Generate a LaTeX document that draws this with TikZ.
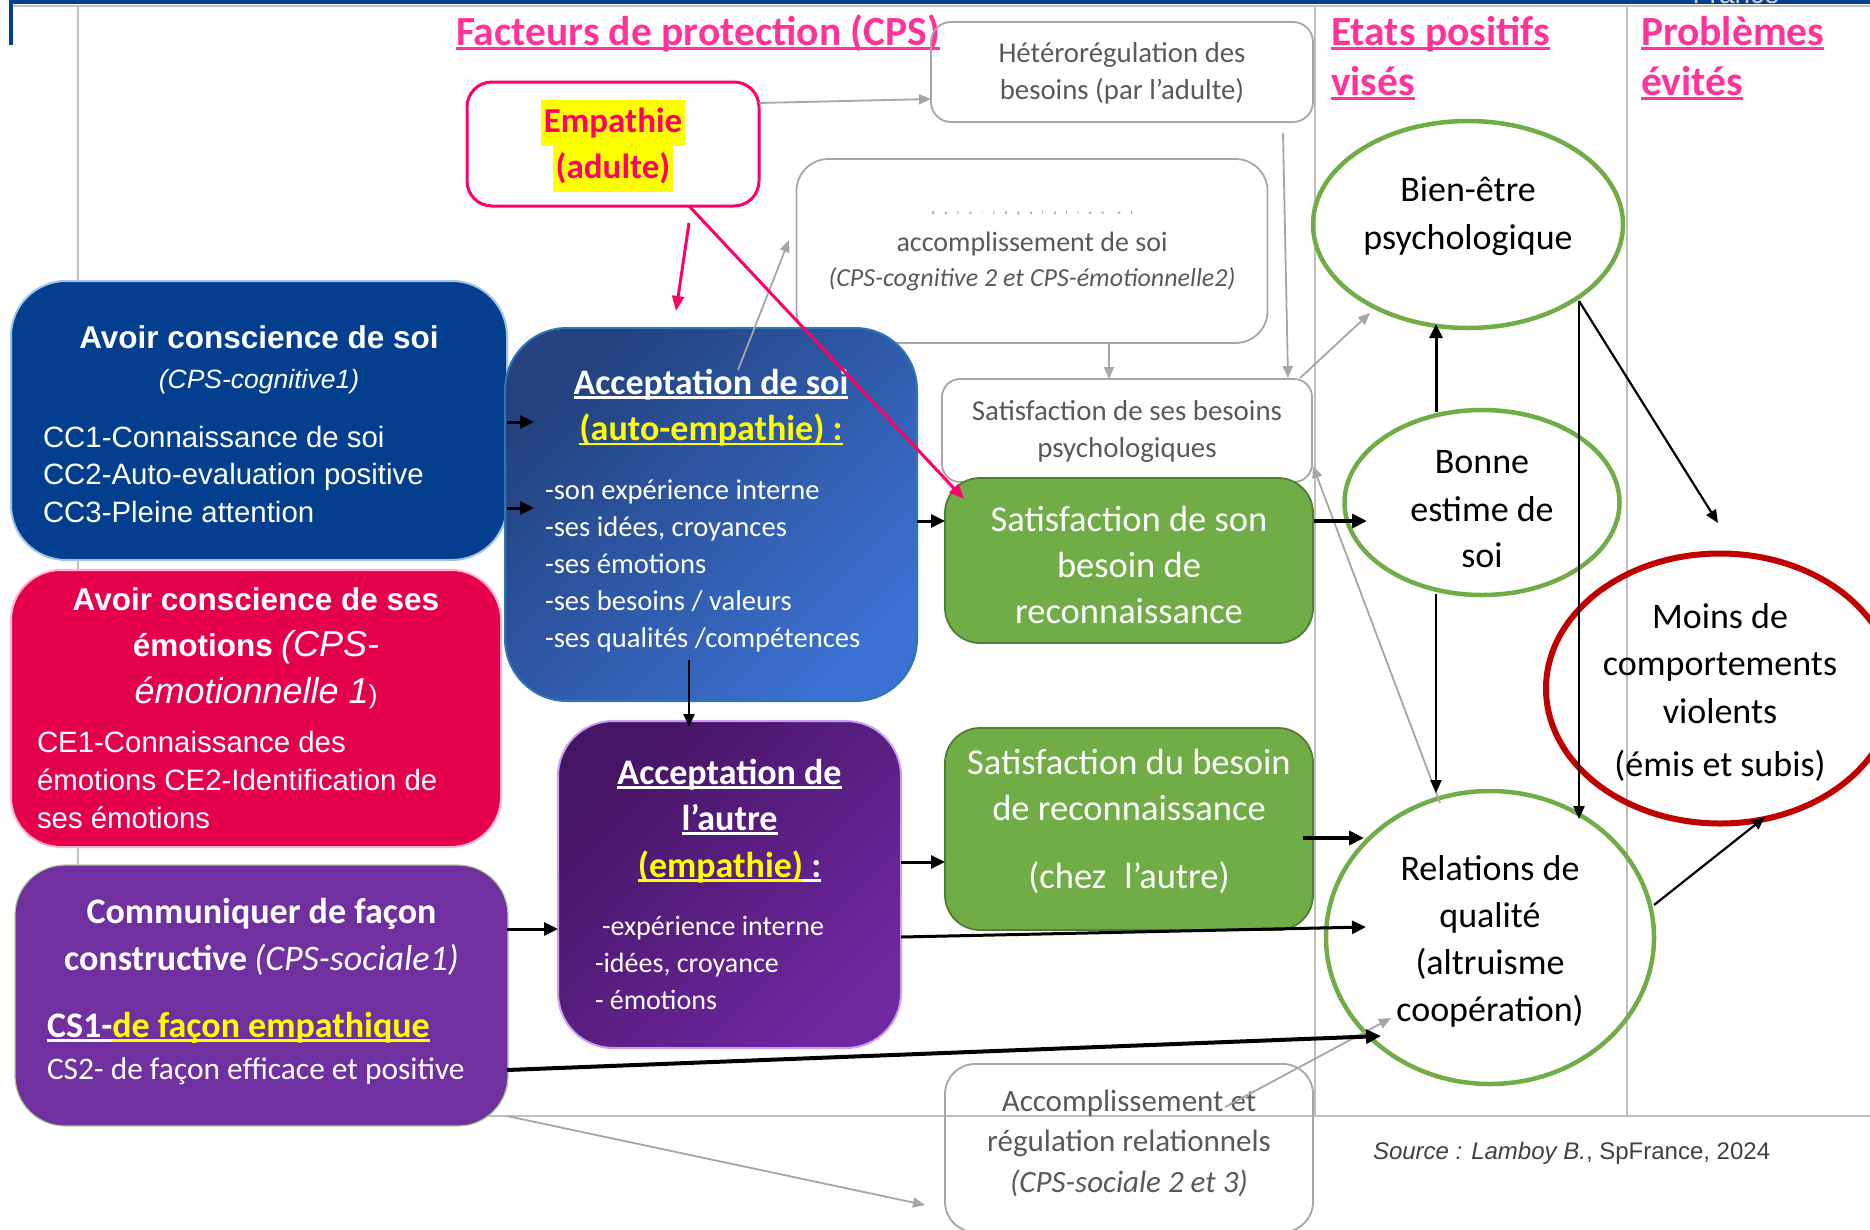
\documentclass[tikz,border=0pt]{standalone}
\usepackage{fontspec}
\setmainfont{Carlito}
\newfontfamily\arialf{Liberation Sans}
\usetikzlibrary{arrows.meta,shapes.geometric,calc}

\definecolor{titlepink}{HTML}{FF3399}
\definecolor{emppink}{HTML}{FF0066}
\definecolor{hlyellow}{HTML}{FFFF00}
\definecolor{topblue}{HTML}{00408F}
\definecolor{framegray}{HTML}{BFBFBF}
\definecolor{taggray}{HTML}{D0D0D0}
\definecolor{boxgray}{HTML}{A6A6A6}
\definecolor{txtgray}{HTML}{595959}
\definecolor{soiblue}{HTML}{033F8E}
\definecolor{soiedge}{HTML}{9DC3E6}
\definecolor{emored}{HTML}{E4004F}
\definecolor{emoedge}{HTML}{FFB3CF}
\definecolor{commpurple}{HTML}{7030A0}
\definecolor{commedge}{HTML}{A9D18E}
\definecolor{asoiA}{HTML}{23427F}
\definecolor{asoiB}{HTML}{3B71D1}
\definecolor{asoiedge}{HTML}{2E75B6}
\definecolor{autreA}{HTML}{461464}
\definecolor{autreB}{HTML}{6E28A0}
\definecolor{autreedge}{HTML}{C9A0F0}
\definecolor{grfill}{HTML}{70AD47}
\definecolor{gredge}{HTML}{507E32}
\definecolor{ringred}{HTML}{C00000}
\definecolor{srcgray}{HTML}{404040}

% underline sitting just below the baseline, in the current colour
\newsavebox\ulbox
\newcommand\ulin[1]{\sbox\ulbox{#1}\rlap{\rule[-0.13em]{\wd\ulbox}{0.08em}}\usebox\ulbox}
% yellow highlighter
\newcommand\hilite[1]{{\setlength{\fboxsep}{0pt}\colorbox{hlyellow}{\strut\hspace{3pt}#1\hspace{3pt}}}}
\newcommand\fsz[2]{\fontsize{#1}{#2}\selectfont}
% invisible struts fixing the extent of a text block (vertical placement in its box)
\newcommand\topstrut[1]{\rule{0pt}{#1}}
\newcommand\botstrut[1]{\rule[-#1]{0pt}{#1}}

\begin{document}
\begin{tikzpicture}[x=1pt,y=-1pt,
  every node/.style={inner sep=0pt, outer sep=0pt},
  gbox/.style={draw=boxgray, line width=1.8pt, text=txtgray, align=center},
  gring/.style={ellipse, draw=grfill, line width=4.5pt, align=center, inner sep=-30pt},
  blk/.style={draw=black, line width=3pt, -{Triangle[length=14pt,width=13pt]}},
  blkthick/.style={draw=black, line width=4pt, -{Triangle[length=15pt,width=14pt]}},
  blkthin/.style={draw=black, line width=2.2pt, -{Triangle[length=13pt,width=11pt]}},
  gry/.style={draw=boxgray, line width=1.8pt, -{Triangle[length=12pt,width=10pt]}},
  pnk/.style={draw=emppink, line width=3pt, -{Triangle[length=15pt,width=12pt]}},
]
\useasboundingbox (0,0) rectangle (1870,1229);

% ---- page frame ----
\fill[topblue] (9,0) rectangle (1870,4);
\fill[topblue] (9,0) rectangle (13,45);
\draw[framegray, line width=2pt] (13,5.5) -- (1870,5.5);
\draw[framegray, line width=1.5pt] (78,5.5) -- (78,1116) -- (1870,1116);
\draw[framegray, line width=1.5pt] (1315,5.5) -- (1315,1116);
\draw[framegray, line width=1.5pt] (1627,5.5) -- (1627,1116);
\node[anchor=base west, font=\arialf\fsz{28}{32}, text=taggray] (tag) at (1634,3.5) {•\hspace{27pt}•\hspace{12pt}France};

% ---- column titles ----
\node[anchor=base west, text=titlepink, font=\bfseries\fsz{41.5}{50}] (tfac) at (456,45) {\ulin{Facteurs de protection (CPS)}};
\node[anchor=west, align=left, text=titlepink, font=\bfseries\fsz{41.5}{50}] (tetat) at (1331,60) {\ulin{Etats positifs}\strut\\\ulin{visés}\strut};
\node[anchor=west, align=left, text=titlepink, font=\bfseries\fsz{41.5}{50}] (tprob) at (1641,60) {\ulin{Problèmes}\strut\\\ulin{évités}\strut};

% ---- grey (regulation) boxes ----
\node[gbox, rounded corners=20pt, minimum width=382pt, minimum height=100pt, font=\fsz{28.8}{37}] (het) at (1122,72) {\topstrut{26.6pt}Hétérorégulation des\\besoins (par l’adulte)\botstrut{9pt}};
\node[gbox, rounded corners=32pt, minimum width=471pt, minimum height=184pt, font=\fsz{28}{35}] (auto) at (1032,251) {{\fsz{5}{6}\spaceskip=10pt A u t o - r é g u l a t i o n\hspace{14pt}e t}\\[2pt]accomplissement de soi\\{\itshape\fsz{26}{35}(CPS-cognitive 2 et CPS-émotionnelle2)}};
\node[gbox, rounded corners=18pt, minimum width=370pt, minimum height=103pt, font=\fsz{28.9}{37}] (sses) at (1127,430.5) {\topstrut{25pt}Satisfaction de ses besoins\\psychologiques\botstrut{9pt}};
\node[gbox, rounded corners=30pt, minimum width=368pt, minimum height=168pt, font=\fsz{31}{40.5}] (accomp) at (1129,1148) {\topstrut{27.6pt}Accomplissement et\\régulation relationnels\\{\itshape (CPS-sociale 2 et 3)}\botstrut{20pt}};

% ---- adult empathy ----
\node[draw=emppink, line width=3pt, rounded corners=25pt, minimum width=292pt, minimum height=124pt, align=center, text=emppink, font=\bfseries\fsz{35}{46}] (emp) at (613,144) {\topstrut{36pt}\hilite{Empathie}\\\hilite{(adulte)}};

% ---- life-skill boxes ----
\node[fill=soiblue, draw=soiedge, line width=2pt, rounded corners=55pt, minimum width=496pt, minimum height=279pt, align=center, text=white, font=\arialf\fsz{29.4}{37.5}] (soi) at (259,420.5) {{\topstrut{31.2pt}\bfseries\fsz{31.5}{37.5}Avoir conscience de soi}\\[3pt]{\itshape\fsz{26.5}{37.5}(CPS-cognitive1)}\\[21pt]\makebox[432pt][l]{CC1-Connaissance de soi}\\\makebox[432pt][l]{CC2-Auto-evaluation positive}\\\makebox[432pt][l]{CC3-Pleine attention}\botstrut{2pt}};

\node[fill=emored, draw=emoedge, line width=2pt, rounded corners=50pt, minimum width=490pt, minimum height=277pt, align=center, text=white, font=\arialf\fsz{29.4}{38}] (emo) at (256,708.5) {{\bfseries\fsz{31.5}{38}Avoir conscience de ses}\\[8pt]{\bfseries\fsz{31.5}{38}émotions} {\itshape\fsz{36}{38}(CPS-}\\[9pt]{\itshape\fsz{36}{38}émotionnelle 1}{\fsz{26}{38})}\\[11pt]\makebox[438pt][l]{CE1-Connaissance des}\\\makebox[438pt][l]{émotions CE2-Identification de}\\\makebox[438pt][l]{ses émotions}};

\node[fill=commpurple, draw=commedge, line width=1.2pt, rounded corners=50pt, minimum width=493pt, minimum height=261pt, align=center, text=white, font=\fsz{31.4}{42}] (comm) at (261.5,995.5) {{\topstrut{27.2pt}\bfseries\fsz{36}{42}Communiquer de façon}\\[5pt]{\bfseries\fsz{36}{42}constructive} {\itshape\fsz{36}{42}(CPS-sociale1)}\\[25pt]\makebox[429pt][l]{\bfseries\fsz{36}{42}\ulin{CS1-}\textcolor{hlyellow}{\ulin{de façon empathique}}}\\\makebox[429pt][l]{CS2- de façon efficace et positive}\botstrut{16pt}};

\node[top color=asoiA, bottom color=asoiB, shading angle=45, draw=asoiedge, line width=2pt, rounded corners=62pt, minimum width=412pt, minimum height=373pt, align=center, text=white, font=\fsz{28.6}{37}] (asoi) at (711,514.5) {{\topstrut{27.1pt}\bfseries\fsz{36}{37}\ulin{Acceptation de soi}}\\[9.5pt]{\bfseries\fsz{36}{37}\color{hlyellow}\ulin{(auto-empathie) :}}\\[22.2pt]\makebox[332pt][l]{-son expérience interne}\\\makebox[332pt][l]{-ses idées, croyances}\\\makebox[332pt][l]{-ses émotions}\\\makebox[332pt][l]{-ses besoins / valeurs}\\\makebox[332pt][l]{-ses qualités /compétences}\botstrut{14pt}};

\node[top color=autreA, bottom color=autreB, shading angle=45, draw=autreedge, line width=2pt, rounded corners=55pt, minimum width=343pt, minimum height=327pt, align=center, text=white, font=\fsz{28}{37}] (autre) at (729.5,884.5) {{\bfseries\fsz{36}{37}\ulin{Acceptation de}}\\[9pt]{\bfseries\fsz{36}{37}\ulin{l’autre}}\\[10pt]{\bfseries\fsz{36}{37}\textcolor{hlyellow}{\ulin{(empathie)}}\ulin{ :}}\\[21pt]\makebox[269pt][l]{\hspace{7pt}-expérience interne}\\\makebox[269pt][l]{-idées, croyance}\\\makebox[269pt][l]{- émotions}};

% ---- need satisfaction ----
\node[fill=grfill, draw=gredge, line width=1.8pt, rounded corners=35pt, minimum width=368pt, minimum height=165pt, align=center, text=white, font=\fsz{36.5}{46}] (g1) at (1129,560.5) {\topstrut{40pt}Satisfaction de son\\besoin de\\reconnaissance\botstrut{7pt}};
\node[fill=grfill, draw=gredge, line width=1.8pt, rounded corners=35pt, minimum width=368pt, minimum height=202pt, align=center, text=white, font=\fsz{36.5}{46}] (g2) at (1129,829) {\topstrut{36pt}Satisfaction du besoin\\de reconnaissance\\[22pt](chez\enspace l’autre)\botstrut{32pt}};

% ---- outcomes ----
\node[gring, minimum width=310pt, minimum height=207pt, font=\fsz{36}{46}] (bien) at (1468,224.5) {\topstrut{32pt}Bien-être\\[1.7pt]psychologique\botstrut{30pt}};
\node[gring, minimum width=275pt, minimum height=185pt, font=\fsz{36}{46}] (bonne) at (1482,502.5) {\topstrut{37.5pt}Bonne\\[1.5pt]estime de\\soi\botstrut{2pt}};
\node[gring, minimum width=328pt, minimum height=293pt, font=\fsz{36}{47}] (rel) at (1490,937.5) {\topstrut{38.4pt}Relations de\\qualité\\(altruisme\\coopération)\botstrut{12pt}};
\node[ellipse, draw=ringred, line width=6pt, inner sep=-30pt, minimum width=348pt, minimum height=270pt, align=center, font=\fsz{36}{47}] (moins) at (1720,688.5) {\topstrut{40pt}Moins de\\comportements\\[0.7pt]violents\\[6.6pt](émis et subis)\botstrut{12pt}};

\node[anchor=base west, text=srcgray, font=\arialf\fsz{24}{28}] (src) at (1373,1159) {\textit{Source : Lamboy B.}, SpFrance, 2024};

% ---- grey connectors ----
\draw[gry] ($(emp.east)+(0,-41)$) -- ($(het.west)+(0,27)$);
\draw[gry] ($(asoi.north)+(27,42)$) -- ($(auto.west)+(-7.5,-11)$);
\draw[gry] ($(het.south)+(161,11)$) -- ($(sses.north)+(161,-1)$);
\draw[gry] ($(auto.south)+(77,0)$) -- ($(sses.north)+(-18,0)$);
\draw[gry] ($(sses.north east)+(-12,-1)$) -- ($(bien.south)+(-98,-15)$);
\draw[gry] ($(rel.north)+(-50,12)$) -- ($(sses.east)+(1,35.5)$);
\draw[gry] ($(accomp.north)+(96,43)$) -- ($(rel.west)+(65,80.5)$);
\draw[gry] ($(comm.south east)+(-1,-10)$) -- ($(accomp.west)+(-20,57)$);

% ---- black connectors ----
\draw[blk] ($(soi.east)+(0,1.5)$) -- ($(asoi.west)+(29,-92.5)$);
\draw[blk] ($(soi.east)+(0,87.5)$) -- ($(asoi.west)+(29,-6.5)$);
\draw[blk] ($(asoi.east)+(0,6.5)$) -- ($(g1.west)+(0,-39.5)$);
\draw[blkthin] ($(asoi.south)+(-22,-41)$) -- ($(autre.north)+(-40.5,6)$);
\draw[blk] ($(autre.east)+(0,-22.5)$) -- ($(g2.west)+(0,33)$);
\draw[blk] ($(comm.east)+(-1,-66.5)$) -- ($(autre.west)+(0,44.5)$);
\draw[blk] ($(autre.east)+(0,52.5)$) -- ($(rel.west)+(40,-10.5)$);
\draw[blkthick] ($(comm.east)+(-1,74.5)$) -- ($(rel.west)+(55,98.5)$);
\draw[blkthick] ($(g1.east)+(1,-39.5)$) -- ($(bonne.west)+(22.5,18.5)$);
\draw[blkthick] ($(g2.east)+(-10,9)$) -- ($(rel.west)+(38,-99.5)$);
\draw[blk] ($(bonne.north)+(-46,2)$) -- ($(bien.south)+(-32,-4)$);
\draw[blkthin] ($(bonne.south)+(-46,-1)$) -- ($(rel.north)+(-54,2)$);
\draw[blkthin] ($(bien.center)+(111,76.5)$) -- ($(rel.north)+(89,28)$);
\draw[blkthin] ($(bien.center)+(111,76.5)$) -- ($(moins.north)+(-2,-30.5)$);
\draw[blkthin] ($(rel.east)+(0,-32.5)$) -- ($(moins.south)+(45,-6.5)$);

% ---- pink connectors ----
\draw[pnk] ($(emp.south)+(76,17)$) -- ($(asoi.north)+(-35,-17)$);
\draw[pnk] ($(emp.south)+(76,0)$) -- ($(g1.north west)+(19,21)$);
\end{tikzpicture}
\end{document}
